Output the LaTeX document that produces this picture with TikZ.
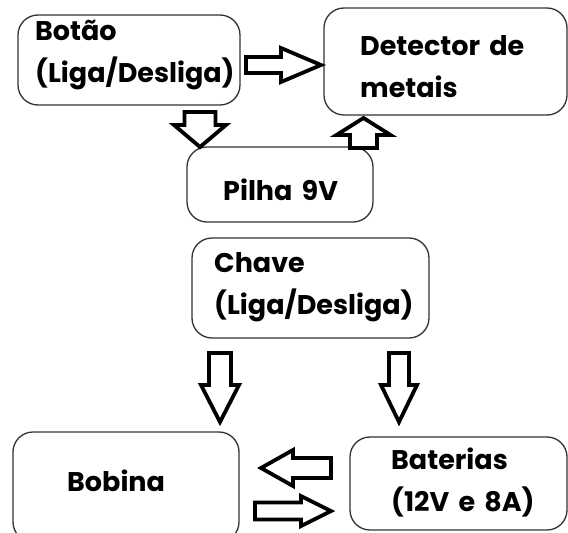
\documentclass[tikz,border=0pt]{standalone}
\usepackage{fontspec}
\setmainfont{Poppins}[WordSpace={1.6}]
\tikzset{
  box/.style={draw=black!80, line width=1.3pt, rounded corners=20pt, inner sep=0pt},
  lbl/.style={anchor=west, align=left, inner sep=0pt, font=\fontsize{27}{42}\selectfont\bfseries},
  arrowline/.style={draw=black, line width=3.8pt, line join=miter, fill=white}
}
\newcommand\blockarrow[7]{%
  \draw[arrowline, shift={(#1,#2)}, rotate=#3]
    (0,-#5) -- (#4-#7,-#5) -- (#4-#7,-#6) -- (#4,0) -- (#4-#7,#6) -- (#4-#7,#5) -- (0,#5) -- cycle;}
\begin{document}
\begin{tikzpicture}[x=1pt,y=-1pt]
\useasboundingbox[fill=white] (0,0) rectangle (568,533);
% boxes
\node[box, minimum width=222pt, minimum height=90pt] (botao) at (129,60) {};
\node[box, minimum width=243pt, minimum height=107pt] (detector) at (445.5,61.5) {};
\node[box, minimum width=186pt, minimum height=75pt] (pilha) at (280,184.5) {};
\node[box, minimum width=237pt, minimum height=100pt] (chave) at (310.5,288) {};
\node[box, minimum width=226pt, minimum height=110pt] (bobina) at (126,487) {};
\node[box, minimum width=217pt, minimum height=93pt] (baterias) at (458.5,483.5) {};
% texts
\node[lbl] (botaoT) at (35,55) {Botão\\(Liga/Desliga)};
\node[lbl] (detectorT) at (360,67) {Detector de\\metais};
\node[lbl] (pilhaT) at (223,190) {Pilha 9V};
\node[lbl] (chaveT) at (214,287) {Chave\\(Liga/Desliga)};
\node[lbl] (bobinaT) at (67,481) {Bobina};
\node[lbl] (bateriasT) at (391,483) {Baterias\\(12V e 8A)};
% block arrows
\blockarrow{246}{65}{0}{75}{8}{17}{40}
\blockarrow{200}{112}{-90}{35}{15.5}{26}{22}
\blockarrow{363.5}{148}{90}{30}{13.5}{27}{17}
\blockarrow{220}{353}{-90}{69}{11}{19}{37}
\blockarrow{399}{353}{-90}{69}{10}{18}{37}
\blockarrow{331}{468}{180}{70}{10}{18}{32}
\blockarrow{255}{511}{0}{76}{8.5}{15}{30}
\end{tikzpicture}
\end{document}
